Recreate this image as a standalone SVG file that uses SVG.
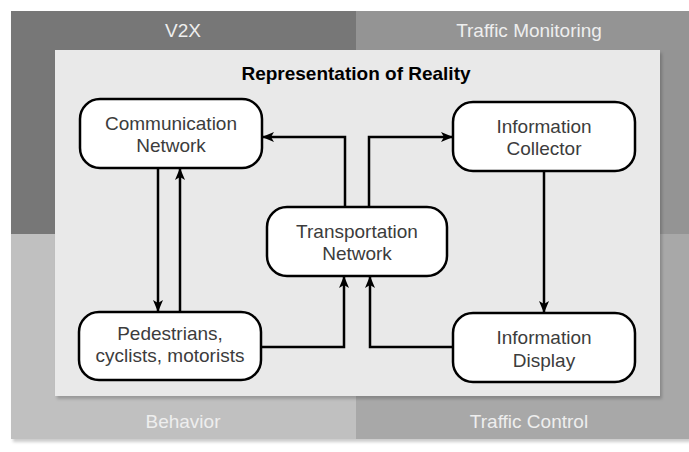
<svg xmlns="http://www.w3.org/2000/svg" width="689" height="452" viewBox="0 0 689 452">
  <style>
    .panel-label { font-family: "Liberation Sans", Arial, sans-serif; font-size: 19px; fill: #eeeeee; text-anchor: middle; }
    .title { font-family: "Liberation Sans", Arial, sans-serif; font-size: 19px; font-weight: bold; fill: #000; text-anchor: middle; }
    .node rect { fill: #ffffff; stroke: #000; stroke-width: 2.5; }
    .node text { font-family: "Liberation Sans", Arial, sans-serif; font-size: 19px; fill: #3c3c3c; text-anchor: middle; }
    .edge { fill: none; stroke: #000; stroke-width: 2.5; marker-end: url(#arrow); }
  </style>
  <defs>
    <filter id="shadow" x="-5%" y="-5%" width="115%" height="120%">
      <feDropShadow dx="2" dy="3" stdDeviation="1.7" flood-color="#000" flood-opacity="0.2"/>
    </filter>
    <marker id="arrow" viewBox="0 0 12 12" refX="11" refY="6" markerWidth="12" markerHeight="12" markerUnits="userSpaceOnUse" orient="auto">
      <path d="M0,1 L12,6 L0,11 L3,6 Z" fill="#000"/>
    </marker>
  </defs>
  <rect width="689" height="452" fill="#ffffff"/>

  <g id="panels" filter="url(#shadow)">
    <rect id="v2x" x="11" y="11" width="345" height="223" fill="#777777"/>
    <rect id="traffic-monitoring" x="356" y="11" width="333" height="223" fill="#949494"/>
    <rect id="behavior" x="11" y="234" width="345" height="205" fill="#c0c0c0"/>
    <rect id="traffic-control" x="356" y="234" width="333" height="205" fill="#a8a8a8"/>
  </g>
  <text class="panel-label" x="183" y="37">V2X</text>
  <text class="panel-label" x="529" y="37">Traffic Monitoring</text>
  <text class="panel-label" x="183" y="428">Behavior</text>
  <text class="panel-label" x="529" y="428">Traffic Control</text>

  <g id="reality">
    <rect x="55" y="50" width="605" height="346" fill="#e9e9e9" filter="url(#shadow)"/>
    <text class="title" x="356" y="80">Representation of Reality</text>
  </g>

  <g id="connectors">
    <path class="edge" d="M158,168 V311"/>
    <path class="edge" d="M180,312 V169"/>
    <path class="edge" d="M345,207 V137 H263"/>
    <path class="edge" d="M369,207 V137 H452"/>
    <path class="edge" d="M544,171 V312"/>
    <path class="edge" d="M261,347 H344 V277"/>
    <path class="edge" d="M453,347 H370 V277"/>
  </g>

  <g id="communication-network" class="node">
    <rect x="80" y="99" width="182" height="69" rx="20" ry="20"/>
    <text x="171" y="130">Communication</text>
    <text x="171" y="152">Network</text>
  </g>
  <g id="information-collector" class="node">
    <rect x="453" y="102" width="182" height="69" rx="20" ry="20"/>
    <text x="544" y="133">Information</text>
    <text x="544" y="155">Collector</text>
  </g>
  <g id="transportation-network" class="node">
    <rect x="267" y="207" width="180" height="69" rx="20" ry="20"/>
    <text x="357" y="238">Transportation</text>
    <text x="357" y="260">Network</text>
  </g>
  <g id="pedestrians" class="node">
    <rect x="79" y="312" width="182" height="68" rx="20" ry="20"/>
    <text x="170" y="340">Pedestrians,</text>
    <text x="170" y="362">cyclists, motorists</text>
  </g>
  <g id="information-display" class="node">
    <rect x="453" y="313" width="182" height="69" rx="20" ry="20"/>
    <text x="544" y="344">Information</text>
    <text x="544" y="367">Display</text>
  </g>
</svg>
